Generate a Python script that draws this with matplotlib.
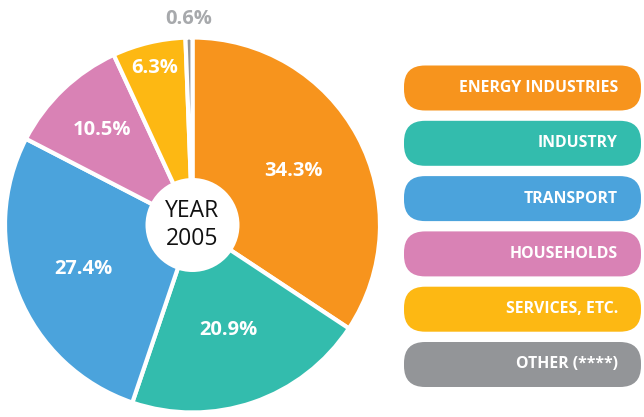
import numpy as np
import matplotlib
matplotlib.use('Agg')
import matplotlib.pyplot as plt
from matplotlib.patches import FancyBboxPatch, Circle

# Data
sectors = ['ENERGY INDUSTRIES', 'INDUSTRY', 'TRANSPORT', 'HOUSEHOLDS',
           'SERVICES, ETC.', 'OTHER (****)']
shares = [34.3, 20.9, 27.4, 10.5, 6.3, 0.6]
colors = ['#F7941D', '#33BCAD', '#4BA3DC', '#D982B5', '#FDB813', '#939598']
year_label = 'YEAR\n2005'

# label distance from centre, as a fraction of the radius
label_r = [0.61, 0.59, 0.63, 0.70, 0.86, 1.10]

W, H = 644, 417
fig = plt.figure(figsize=(W / 100, H / 100), dpi=100)
ax = fig.add_axes([0, 0, 1, 1])

cx, cy, R = 192.5, H - 225, 187.5

wedges, _ = ax.pie(shares, colors=colors, startangle=90, counterclock=False,
                   center=(cx, cy), radius=R, frame=True,
                   wedgeprops=dict(edgecolor='white', linewidth=3))
ax.set_xlim(0, W)
ax.set_ylim(0, H)
ax.axis('off')

# white hole with the year
ax.add_patch(Circle((cx, cy), 47, facecolor='white', edgecolor='none', zorder=5))
ax.text(cx, cy, year_label, ha='center', va='center', fontsize=16.5,
        family='Open Sans', color='#111111', linespacing=1.2, zorder=6)

for w, val, lr in zip(wedges, shares, label_r):
    ang = np.deg2rad((w.theta1 + w.theta2) / 2)
    x = cx + lr * R * np.cos(ang)
    y = cy + lr * R * np.sin(ang)
    col = '#A7A9AC' if lr > 1 else 'white'
    ax.text(x, y, f'{val}%', ha='center', va='center', fontsize=14.5,
            fontweight='bold', family='Open Sans', color=col, zorder=6)

# legend boxes
box_x, box_w, box_h = 404, 237, 45
for i, (name, col) in enumerate(zip(sectors, colors)):
    yc = H - (88 + i * 55.3)
    ax.add_patch(FancyBboxPatch((box_x, yc - box_h / 2), box_w, box_h,
                                boxstyle='round,pad=0,rounding_size=21',
                                facecolor=col, edgecolor='none'))
    ax.text(box_x + box_w - 23, yc, name, ha='right', va='center',
            fontsize=11.4, fontweight='bold', family='Open Sans',
            color='white')

fig.savefig('out.png', dpi=100)
